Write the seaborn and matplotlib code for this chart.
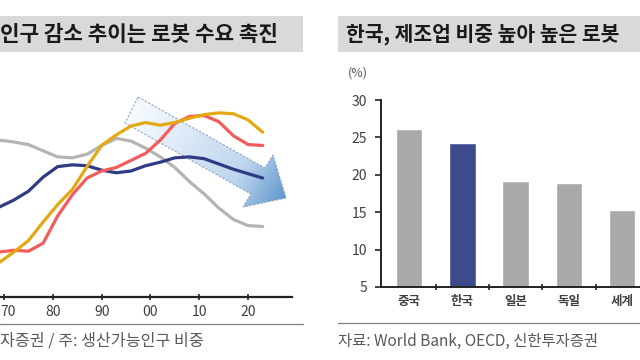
import numpy as np
import pandas as pd
import matplotlib
matplotlib.use("Agg")
import matplotlib.pyplot as plt
import matplotlib.transforms as mtransforms
import seaborn as sns
from matplotlib.patches import Rectangle, Polygon

sns.set_theme(style="white")
plt.rcParams['font.family'] = ['Noto Sans CJK KR', 'DejaVu Sans']

# ---------------- data ----------------
years = [1969, 1972, 1975, 1978, 1981, 1984, 1987, 1990, 1993, 1996,
         1999, 2002, 2005, 2008, 2011, 2014, 2017, 2020, 2023]
japan = [69.4, 69.2, 68.9, 68.2, 67.5, 67.4, 67.8, 68.8, 69.6, 69.3,
         68.5, 67.5, 66.3, 64.7, 63.3, 61.7, 60.4, 59.7, 59.6]
usa = [61.8, 62.6, 63.6, 65.2, 66.4, 66.6, 66.5, 66.0, 65.7, 65.9,
       66.5, 66.9, 67.4, 67.5, 67.3, 66.7, 66.1, 65.6, 65.1]
china = [56.7, 56.9, 56.8, 57.7, 60.8, 63.2, 65.1, 65.9, 66.3, 67.1,
         67.9, 69.4, 71.3, 72.1, 72.2, 71.5, 69.9, 68.9, 68.8]
korea = [55.5, 56.7, 58.0, 60.1, 62.1, 63.8, 66.4, 68.8, 70.0, 71.0,
         71.4, 71.1, 71.4, 71.9, 72.3, 72.5, 72.4, 71.7, 70.3]
line_series = ['일본', '미국', '중국', '한국']
line_colors = {'일본': '#b4b4b4', '미국': '#2f3b82', '중국': '#f25c5c', '한국': '#e3a812'}
year_ticks = [1970, 1980, 1990, 2000, 2010, 2020]
year_labels = ['70', '80', '90', '00', '10', '20']

bar_cats = ['중국', '한국', '일본', '독일', '세계']
bar_vals = [26.1, 24.3, 19.2, 18.9, 15.3]
bar_colors = {'중국': '#a9a9a9', '한국': '#3d4b8c', '일본': '#a9a9a9',
              '독일': '#a9a9a9', '세계': '#a9a9a9'}

W, H = 640, 360
fig = plt.figure(figsize=(6.4, 3.6), dpi=100)

def fx(px):
    return px / W

def fy(py):
    return 1 - py / H

# ---------------- background / decoration axes ----------------
bg = fig.add_axes([0, 0, 1, 1], zorder=0)
bg.set_xlim(0, W)
bg.set_ylim(H, 0)
bg.axis('off')

bg.add_patch(Rectangle((0, 16), 303, 36, color='#d9d9d9', lw=0))
bg.add_patch(Rectangle((338, 16), 310, 36, color='#d9d9d9', lw=0))
bg.text(0, 34.5, '인구 감소 추이는 로봇 수요 촉진', fontsize=15.3, fontweight='bold',
        color='#1a1a1a', va='center', ha='left')
bg.text(346, 34.5, '한국, 제조업 비중 높아 높은 로봇', fontsize=14.7, fontweight='bold',
        color='#1a1a1a', va='center', ha='left')

bg.plot([0, 303], [324, 324], color='#7f7f7f', lw=0.9)
bg.plot([338, 640], [323, 323], color='#7f7f7f', lw=0.9)
bg.text(0, 341, '자증권 / 주: 생산가능인구 비중', fontsize=11.6, color='#595959',
        va='center', ha='left')
bg.text(338, 341, '자료: World Bank, OECD, 신한투자증권', fontsize=11.1, color='#595959',
        va='center', ha='left')
bg.text(358, 73, '(%)', fontsize=9, color='#595959', va='center', ha='center')

# gradient arrow
poly = np.array([(138, 97), (265, 168), (273, 155), (286, 198),
                 (243, 207), (251, 194), (125, 123)])
tail = np.array([131.0, 110.0])
tip = np.array([286.0, 198.0])
d = tip - tail
L = np.hypot(*d)
u = d / L
xs = np.arange(115, 295)
ys = np.arange(85, 215)
XX, YY = np.meshgrid(xs, ys)
t = ((XX - tail[0]) * u[0] + (YY - tail[1]) * u[1]) / L
t = np.clip(t, 0, 1)
c0 = np.array([248, 251, 254]) / 255
c1 = np.array([190, 214, 238]) / 255
c2 = np.array([95, 150, 205]) / 255
img = np.zeros(XX.shape + (3,))
for k in range(3):
    img[..., k] = np.where(t < 0.7,
                           c0[k] + (c1[k] - c0[k]) * (t / 0.7),
                           c1[k] + (c2[k] - c1[k]) * ((t - 0.7) / 0.3))
im = bg.imshow(img, extent=(115, 295, 215, 85), origin='upper', zorder=1)
clip = Polygon(poly, closed=True, transform=bg.transData, facecolor='none', edgecolor='none')
bg.add_patch(clip)
im.set_clip_path(clip)
bg.add_patch(Polygon(poly, closed=True, facecolor='none', edgecolor='#8da4c4',
                     lw=0.8, ls=(0, (2, 1.5)), zorder=2))

# ---------------- left line chart ----------------
axL = fig.add_axes([fx(0), fy(297), fx(292), fy(60) - fy(297)], zorder=1)
axL.patch.set_visible(False)
df = pd.DataFrame({
    'year': years * 4,
    'value': japan + usa + china + korea,
    'series': ['일본'] * len(years) + ['미국'] * len(years) + ['중국'] * len(years) + ['한국'] * len(years),
})
sns.lineplot(data=df, x='year', y='value', hue='series', hue_order=line_series,
             palette=line_colors, linewidth=2.3, legend=False, ax=axL)
for ln in axL.lines:
    ln.set_solid_joinstyle('round')
    ln.set_solid_capstyle('round')
axL.set_xlim(1969.18, 2029.0)
axL.set_ylim(51.6, 78.5)
axL.set_xticks(year_ticks)
axL.set_xticklabels(year_labels)
axL.set_yticks([])
axL.set_xlabel('')
axL.set_ylabel('')
for s in ['top', 'right', 'left']:
    axL.spines[s].set_visible(False)
axL.spines['bottom'].set_color('#222222')
axL.spines['bottom'].set_linewidth(1.6)
axL.tick_params(axis='x', direction='inout', length=5, width=1.2, color='#222222',
                labelsize=10, labelcolor='#404040', pad=3, bottom=True)
first = axL.get_xticklabels()[0]
first.set_horizontalalignment('left')
first.set_transform(first.get_transform() +
                    mtransforms.ScaledTranslation(-4 / 100, 0, fig.dpi_scale_trans))

# ---------------- right bar chart ----------------
axR = fig.add_axes([fx(381), fy(287), fx(640) - fx(381), fy(100) - fy(287)])
bdf = pd.DataFrame({'cat': bar_cats, 'val': bar_vals})
sns.barplot(data=bdf, x='cat', y='val', hue='cat', palette=bar_colors, width=0.5,
            legend=False, ax=axR, saturation=1)
axR.set_xlim(-0.525, 4.335)
axR.set_ylim(5, 30)
axR.set_yticks([5, 10, 15, 20, 25, 30])
axR.set_xlabel('')
axR.set_ylabel('')
for s in ['top', 'right']:
    axR.spines[s].set_visible(False)
for s in ['left', 'bottom']:
    axR.spines[s].set_color('#222222')
    axR.spines[s].set_linewidth(1.4)
axR.set_xticks(range(len(bar_cats)))
axR.set_xticklabels(bar_cats)
axR.set_xticks([0.5, 1.5, 2.5, 3.5], minor=True)
axR.tick_params(axis='x', which='major', length=0, labelsize=9, labelcolor='#404040', pad=6)
axR.tick_params(axis='x', which='minor', direction='inout', length=5, width=1.2,
                color='#222222', bottom=True)
axR.tick_params(axis='y', direction='out', length=4, width=1.2, color='#222222',
                labelsize=10, labelcolor='#404040', pad=6, left=True)
for lab in axR.get_xticklabels():
    lab.set_fontweight('bold')

fig.savefig('out.png', dpi=100)
